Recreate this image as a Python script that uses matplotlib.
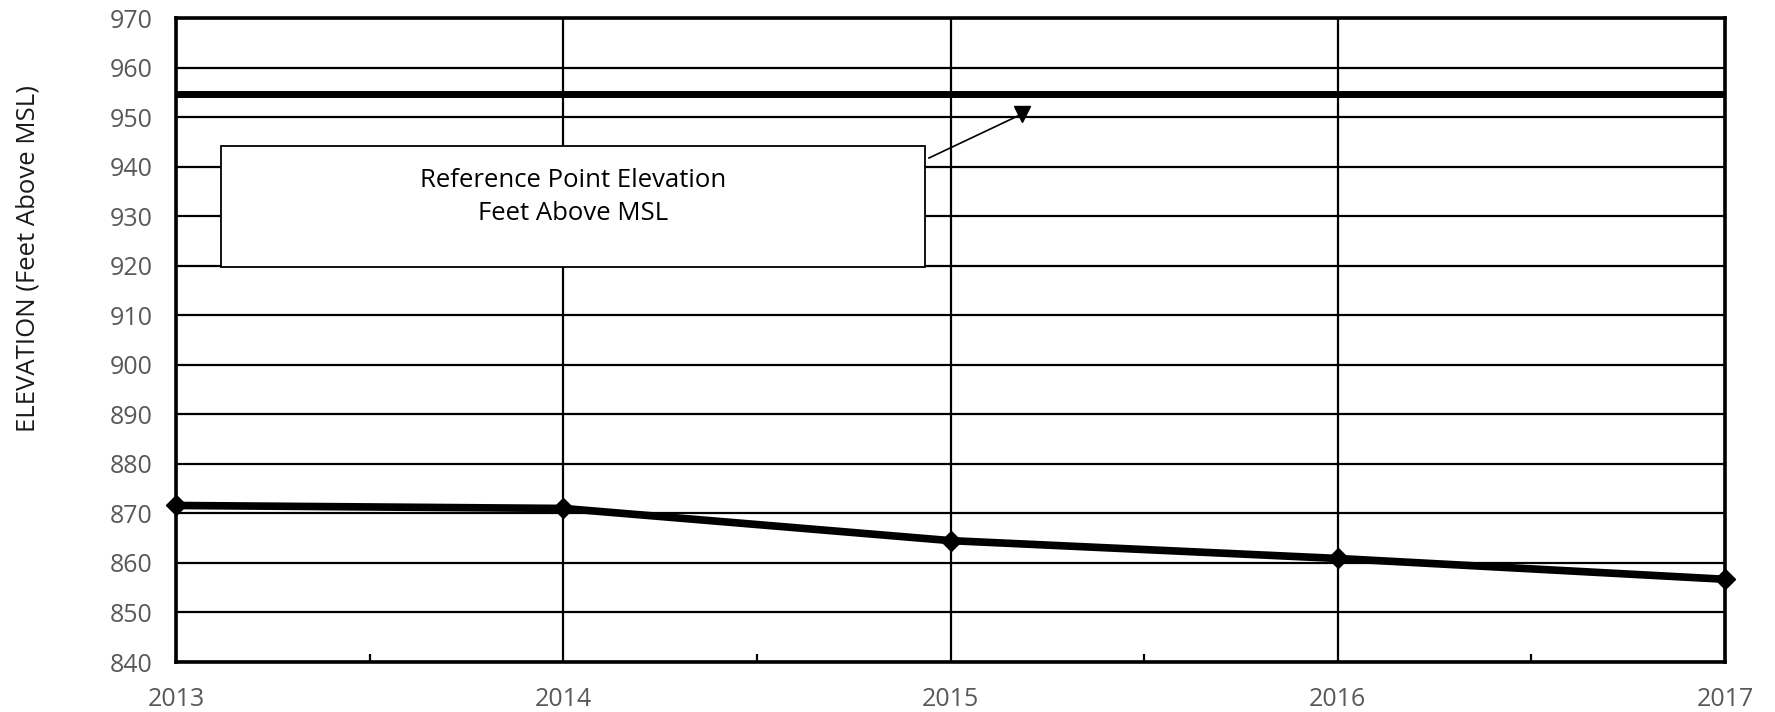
import matplotlib
matplotlib.use("Agg")
import matplotlib.pyplot as plt
from matplotlib.patches import Rectangle

years = [2013, 2014, 2015, 2016, 2017]
elevation = [871.6, 871.0, 864.5, 860.9, 856.7]
reference_elevation = 954.6
y_ticks = list(range(840, 971, 10))
x_ticks = [2013, 2014, 2015, 2016, 2017]
ylabel = "ELEVATION (Feet Above MSL)"
box_text = "Reference Point Elevation\nFeet Above MSL"

plt.rcParams['font.family'] = ['Open Sans', 'DejaVu Sans']

W, H = 1775, 712
fig = plt.figure(figsize=(W / 100, H / 100), dpi=100)
L, R, T, B = 176, 1725, 18, 662
ax = fig.add_axes([L / W, 1 - B / H, (R - L) / W, (B - T) / H])

ax.set_xlim(2013, 2017)
ax.set_ylim(840, 970)
ax.set_yticks(y_ticks)
ax.set_xticks(x_ticks)
ax.set_xticks([2013.5, 2014.5, 2015.5, 2016.5], minor=True)
ax.grid(True, which='major', color='black', linewidth=1.6)
ax.set_axisbelow(True)
for s in ax.spines.values():
    s.set_linewidth(2.6)
    s.set_color('black')

ax.tick_params(axis='y', which='major', length=0, pad=17, labelsize=18, labelcolor='#595959')
ax.tick_params(axis='x', which='major', length=0, pad=18, labelsize=18, labelcolor='#595959')
ax.tick_params(axis='x', which='minor', direction='in', length=6, width=1.6, color='black')

ax.axhline(reference_elevation, color='black', linewidth=5, zorder=3)
ax.plot(years, elevation, color='black', linewidth=5.5, marker='D', markersize=10,
        clip_on=False, zorder=4)

ax.set_ylabel(ylabel, fontsize=18.5, color='#1a1a1a')
ax.yaxis.set_label_coords((40 - L) / (R - L), (B - 258) / (B - T))

def px_to_data(px, py):
    return 2013 + (px - L) / (R - L) * 4, 970 - (py - T) / (B - T) * 130

# annotation box
box_x0, box_y1 = px_to_data(220.7, 146)
box_x1, box_y0 = px_to_data(925, 267)
ax.add_patch(Rectangle((box_x0, box_y0), box_x1 - box_x0, box_y1 - box_y0,
                       facecolor='white', edgecolor='black', linewidth=1.3, zorder=5))
cx, cy = px_to_data(573, 197)
ax.text(cx, cy, box_text, ha='center', va='center',
        fontsize=18.5, color='black', linespacing=1.42, zorder=6)

tail_x, tail_y = px_to_data(929, 158)
head_x, head_y = px_to_data(1022, 114)
ax.plot([tail_x, head_x], [tail_y, head_y], color='black', linewidth=1.2, zorder=6)
ax.plot([head_x], [head_y], marker='v', markersize=12, color='black', zorder=6)

fig.savefig('out.png', dpi=100)
